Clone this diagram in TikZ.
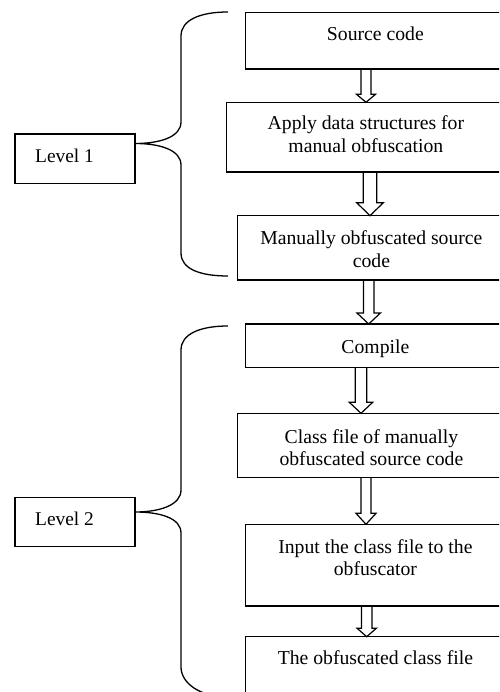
\documentclass[tikz,border=0pt]{standalone}
\usepackage{fontspec}
\setmainfont{Liberation Serif}
\usetikzlibrary{calc}
\tikzset{
  box/.style={draw=black, line width=1.2pt, rectangle, inner sep=0pt, outer sep=0pt, anchor=north west},
  txt/.style={inner sep=0pt, anchor=base, font=\fontsize{19.7}{22.2}\selectfont},
  lvtxt/.style={inner sep=0pt, anchor=base west, font=\fontsize{19.4}{22.2}\selectfont},
  arrowline/.style={draw=black, line width=1.2pt, line join=miter},
  braceline/.style={draw=black, line width=1.3pt}
}
\newcommand\myblockarrow[6]{%
  \draw[arrowline] let \p1=(#1.south), \p2=(#2.north) in
  ({#3pt-#4pt},\y1) -- ({#3pt-#4pt},{\y2+#6pt}) -- ({#3pt-#5pt},{\y2+#6pt}) --
  (#3pt,\y2) -- ({#3pt+#5pt},{\y2+#6pt}) -- ({#3pt+#4pt},{\y2+#6pt}) -- ({#3pt+#4pt},\y1);}
\newcommand\mytwo[2]{\begin{tabular}[t]{@{}c@{}}#1\\#2\end{tabular}}
\begin{document}
\begin{tikzpicture}[x=1pt,y=-1pt]
\useasboundingbox (0,0) rectangle (499,692);
\clip (0,0) rectangle (499,692);
% flow boxes
\node[box, minimum width=259.3pt, minimum height=56.7pt] (src) at (245.7,12.3) {};
\node[box, minimum width=278.3pt, minimum height=69.7pt] (app) at (226.7,102.3) {};
\node[box, minimum width=267.3pt, minimum height=64.3pt] (man) at (237.7,215.7) {};
\node[box, minimum width=259.3pt, minimum height=43.3pt] (cmp) at (245.7,324) {};
\node[box, minimum width=267.3pt, minimum height=64pt] (cls) at (237.7,413.3) {};
\node[box, minimum width=259.3pt, minimum height=81.7pt] (inp) at (245.7,524.3) {};
\node[box, minimum width=259.3pt, minimum height=70pt] (obf) at (245.7,636.7) {};
% texts
\node[txt] (tsrc) at (375.4,40.7) {Source code};
\node[txt] (tapp) at (365.9,130) {\mytwo{Apply data structures for}{manual obfuscation}};
\node[txt] (tman) at (371.4,245) {\mytwo{Manually obfuscated source}{code}};
\node[txt] (tcmp) at (375.4,353.3) {Compile};
\node[txt] (tcls) at (371.4,443.3) {\mytwo{Class file of manually}{obfuscated source code}};
\node[txt] (tinp) at (375.4,553.3) {\mytwo{Input the class file to the}{obfuscator}};
\node[txt] (tobf) at (375.4,664.3) {The obfuscated class file};
% arrows
\myblockarrow{src}{app}{366}{5}{9.5}{8}
\myblockarrow{app}{man}{370}{6.7}{13.3}{13}
\myblockarrow{man}{cmp}{368.7}{5.3}{11.7}{11}
\myblockarrow{cmp}{cls}{361}{5.8}{11.7}{11}
\myblockarrow{cls}{inp}{366}{5}{10}{11}
\myblockarrow{inp}{obf}{366.7}{5.3}{9.7}{8.5}
% level boxes
\node[box, minimum width=120pt, minimum height=49.3pt] (lv1) at (15,134) {};
\node[box, minimum width=120pt, minimum height=49.4pt] (lv2) at (15,497.3) {};
\node[lvtxt] (tlv1) at (35,162.7) {Level 1};
\node[lvtxt] (tlv2) at (35,525) {Level 2};
% braces
\coordinate (b1tip) at (135,143.5);
\coordinate (b2tip) at (135,512);
\draw[braceline] (228,12) .. controls (200,12) and (181,20) .. (181,36) -- (181,122)
  .. controls (181,137) and (160,143.5) .. (b1tip)
  .. controls (160,143.5) and (181,150) .. (181,165) -- (181,253)
  .. controls (181,269) and (200,276) .. (228,276);
\draw[braceline] (228,326) .. controls (200,326) and (181,334) .. (181,350) -- (181,490)
  .. controls (181,505) and (160,512) .. (b2tip)
  .. controls (160,512) and (181,518) .. (181,533) -- (181,667)
  .. controls (181,683) and (200,697) .. (228,697);
\end{tikzpicture}
\end{document}
